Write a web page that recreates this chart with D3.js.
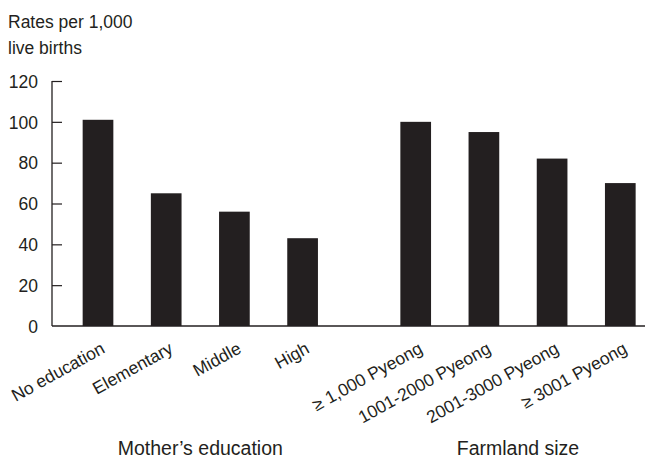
<!DOCTYPE html>
<html>
<head>
<meta charset="utf-8">
<script src="https://cdn.jsdelivr.net/npm/d3@7"></script>
<style>
  html, body { margin: 0; padding: 0; background: #fff; }
  svg { display: block; }
  text { font-family: "Liberation Sans", Arial, sans-serif; fill: #231f20; }
</style>
</head>
<body>
<div id="chart"></div>
<script>
// ---- data ----
const groups = ["Mother\u2019s education", "Farmland size"];
const educationCategories = ["No education", "Elementary", "Middle", "High"];
const educationRates = [101, 65, 56, 43];
const farmlandCategories = ["\u2265 1,000 Pyeong", "1001-2000 Pyeong", "2001-3000 Pyeong", "\u2265 3001 Pyeong"];
const farmlandRates = [100, 95, 82, 70];
const yTicks = [0, 20, 40, 60, 80, 100, 120];
const yTitle = ["Rates per 1,000", "live births"];

// ---- build ----
const seriesByGroup = [
  educationCategories.map((c, i) => ({ cat: c, value: educationRates[i], idx: i })),
  farmlandCategories.map((c, i) => ({ cat: c, value: farmlandRates[i], idx: i }))
];

const W = 645, H = 460;
const axisX = 52, axisRight = 645;
const svg = d3.select("#chart").append("svg").attr("width", W).attr("height", H);

const y = d3.scaleLinear().domain([0, 120]).range([326, 81]);

const groupStep = 317.7, groupStart = 63.9, groupWidth = 272.8;
const outer = d3.scaleBand().domain(groups).range([groupStart, groupStart + groupStep * groups.length]).paddingInner(0).paddingOuter(0);
const inner = d3.scaleBand().domain(d3.range(4)).range([0, groupWidth]).paddingInner(0.55).paddingOuter(0.275);

const fontSize = 17.5;

// y title
svg.append("g").selectAll("text").data(yTitle).join("text")
  .attr("x", 8).attr("y", (d, i) => 27.5 + i * 26.8)
  .attr("font-size", fontSize).text(d => d);

// y axis
const yAxis = d3.axisRight(y).tickValues(yTicks).tickSize(10).tickFormat(d3.format("d"));
const gy = svg.append("g").attr("transform", `translate(${axisX},0)`).call(yAxis);
gy.select(".domain").attr("d", `M0,${y(120)}V${y(0)}`).attr("stroke", "#231f20").attr("stroke-width", 1.3);
gy.selectAll(".tick line").attr("stroke", "#231f20").attr("stroke-width", 1.2);
gy.selectAll(".tick text").attr("x", -14).attr("dy", "0.36em").attr("text-anchor", "end")
  .attr("font-size", fontSize).attr("font-family", null).attr("fill", "#231f20");
gy.selectAll(".tick").filter(d => d === 0).select("line").remove();

// bars
groups.forEach((g, gi) => {
  const gg = svg.append("g").attr("transform", `translate(${outer(g)},0)`);
  gg.selectAll("rect").data(seriesByGroup[gi]).join("rect")
    .attr("x", d => inner(d.idx))
    .attr("width", inner.bandwidth())
    .attr("y", d => y(d.value))
    .attr("height", d => y(0) - y(d.value))
    .attr("fill", "#231f20");
  // rotated category labels
  gg.selectAll("text.cat").data(seriesByGroup[gi]).join("text")
    .attr("class", "cat")
    .attr("transform", d => `translate(${inner(d.idx) + inner.bandwidth() / 2 + 8},${y(0) + 26}) rotate(-29)`)
    .attr("text-anchor", "end")
    .attr("font-size", fontSize)
    .text(d => d.cat);
  // group label
  gg.append("text")
    .attr("x", groupWidth / 2).attr("y", 455)
    .attr("text-anchor", "middle")
    .attr("font-size", 19.5)
    .text(g);
});

// x axis baseline
svg.append("line")
  .attr("x1", axisX).attr("x2", axisRight)
  .attr("y1", y(0)).attr("y2", y(0))
  .attr("stroke", "#231f20").attr("stroke-width", 1.3);
</script>
</body>
</html>
